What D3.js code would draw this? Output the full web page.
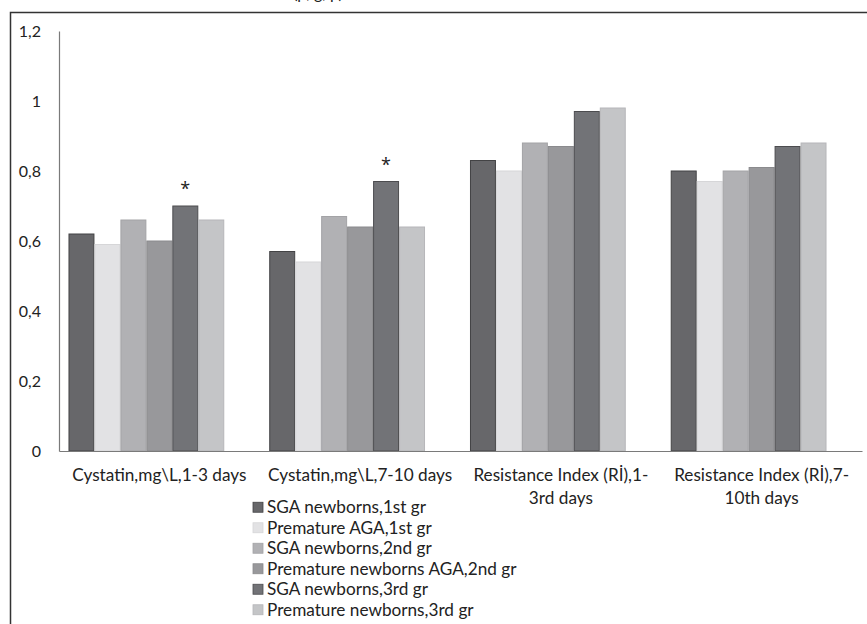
<!DOCTYPE html>
<html>
<head>
<meta charset="utf-8">
<script src="https://cdn.jsdelivr.net/npm/d3@7"></script>
<style>
  html, body { margin: 0; padding: 0; background: #fff; }
  svg { display: block; }
  text { font-family: Lato, "Open Sans", sans-serif; fill: #222; }
</style>
</head>
<body>
<script>
const categories = [
  ["Cystatin,mg\\L,1-3 days"],
  ["Cystatin,mg\\L,7-10 days"],
  ["Resistance Index (Rİ),1-", "3rd days"],
  ["Resistance Index (Rİ),7-", "10th days"]
];
const categoryKeys = ["c1", "c2", "r1", "r2"];
const seriesNames = [
  "SGA newborns,1st gr",
  "Premature AGA,1st gr",
  "SGA newborns,2nd gr",
  "Premature newborns AGA,2nd gr",
  "SGA newborns,3rd gr",
  "Premature newborns,3rd gr"
];
const sgaGr1 = [0.62, 0.57, 0.83, 0.80];
const agaGr1 = [0.59, 0.54, 0.80, 0.77];
const sgaGr2 = [0.66, 0.67, 0.88, 0.80];
const agaGr2 = [0.60, 0.64, 0.87, 0.81];
const sgaGr3 = [0.70, 0.77, 0.97, 0.87];
const agaGr3 = [0.66, 0.64, 0.98, 0.88];
const seriesValues = [sgaGr1, agaGr1, sgaGr2, agaGr2, sgaGr3, agaGr3];
const significant = [["c1", 4], ["c2", 4]];
const yTicks = [0, 0.2, 0.4, 0.6, 0.8, 1, 1.2];
const fills   = ["#67676a", "#e2e2e4", "#b1b1b4", "#98989b", "#727377", "#c4c5c7"];
const strokes = ["#434345", "#d6d6d8", "#a3a3a6", "#8a8a8d", "#4c4c4f", "#b6b6b9"];

const W = 867, H = 624;
const FS = "17.2px";
const svg = d3.select("body").append("svg").attr("width", W).attr("height", H);

// frame
svg.append("path").attr("d", "M10.5,624 L10.5,12.5 L867,12.5")
  .attr("fill", "none").attr("stroke", "#333").attr("stroke-width", 1.5);

// partially visible title (cut off at top, as in the source)
svg.append("text").attr("x", 318).attr("y", -1).attr("text-anchor", "middle")
  .style("font-size", "16px").text("(p, g, p)");

const y = d3.scaleLinear().domain([0, 1.2]).range([451, 31]);
const xAxisBand = d3.scaleBand().domain(categoryKeys).range([59, 862]);
const xBars = d3.scaleBand().domain(categoryKeys).range([46, 849])
  .paddingInner(0.224).paddingOuter(0.112);
const xSeries = d3.scaleBand().domain(d3.range(seriesNames.length)).range([0, xBars.bandwidth()]);

// y axis
const yAxis = d3.axisLeft(y).tickValues(yTicks).tickSize(0).tickPadding(18)
  .tickFormat(d => String(d).replace(".", ","));
const gy = svg.append("g").attr("transform", "translate(59,0)").call(yAxis);
gy.select(".domain").attr("stroke", "#7a7a7a").attr("stroke-width", 1.2);
gy.selectAll("text").style("font-size", "16px").style("font-family", "Lato, sans-serif").attr("fill", "#222");

// bars
seriesValues.forEach((vals, si) => {
  svg.append("g").selectAll("rect").data(vals).join("rect")
    .attr("x", (d, i) => xBars(categoryKeys[i]) + xSeries(si) + 0.5)
    .attr("y", d => y(d))
    .attr("width", xSeries.bandwidth() - 1)
    .attr("height", d => y(0) - y(d))
    .attr("fill", fills[si])
    .attr("stroke", strokes[si])
    .attr("stroke-width", 1);
});

// x axis
const xAxis = d3.axisBottom(xAxisBand).tickSize(0).tickFormat("");
const gx = svg.append("g").attr("transform", "translate(0,451)").call(xAxis);
gx.select(".domain").attr("stroke", "#7a7a7a").attr("stroke-width", 1.2);

// category labels
categoryKeys.forEach((k, i) => {
  const cx = xAxisBand(k) + xAxisBand.bandwidth() / 2;
  const t = svg.append("text").attr("text-anchor", "middle")
    .attr("x", cx).attr("y", 481).style("font-size", FS);
  categories[i].forEach((line, li) => {
    t.append("tspan").attr("x", cx).attr("dy", li === 0 ? 0 : 23).text(line);
  });
});

// significance asterisks
significant.forEach(([k, si]) => {
  const v = seriesValues[si][categoryKeys.indexOf(k)];
  svg.append("text").attr("text-anchor", "middle")
    .attr("x", xBars(k) + xSeries(si) + xSeries.bandwidth() / 2)
    .attr("y", y(v) - 11)
    .style("font-family", "'Open Sans', sans-serif")
    .style("font-size", "18px").text("*");
});

// legend
const legendY = d3.scaleBand().domain(d3.range(seriesNames.length)).range([497, 620]);
const lg = svg.append("g");
seriesNames.forEach((name, si) => {
  const cy = legendY(si) + legendY.bandwidth() / 2;
  lg.append("rect").attr("x", 253).attr("y", cy - 5).attr("width", 10).attr("height", 10)
    .attr("fill", fills[si]).attr("stroke", strokes[si]).attr("stroke-width", 0.8);
  lg.append("text").attr("x", 267).attr("y", cy + 6).style("font-size", FS).text(name);
});
</script>
</body>
</html>
